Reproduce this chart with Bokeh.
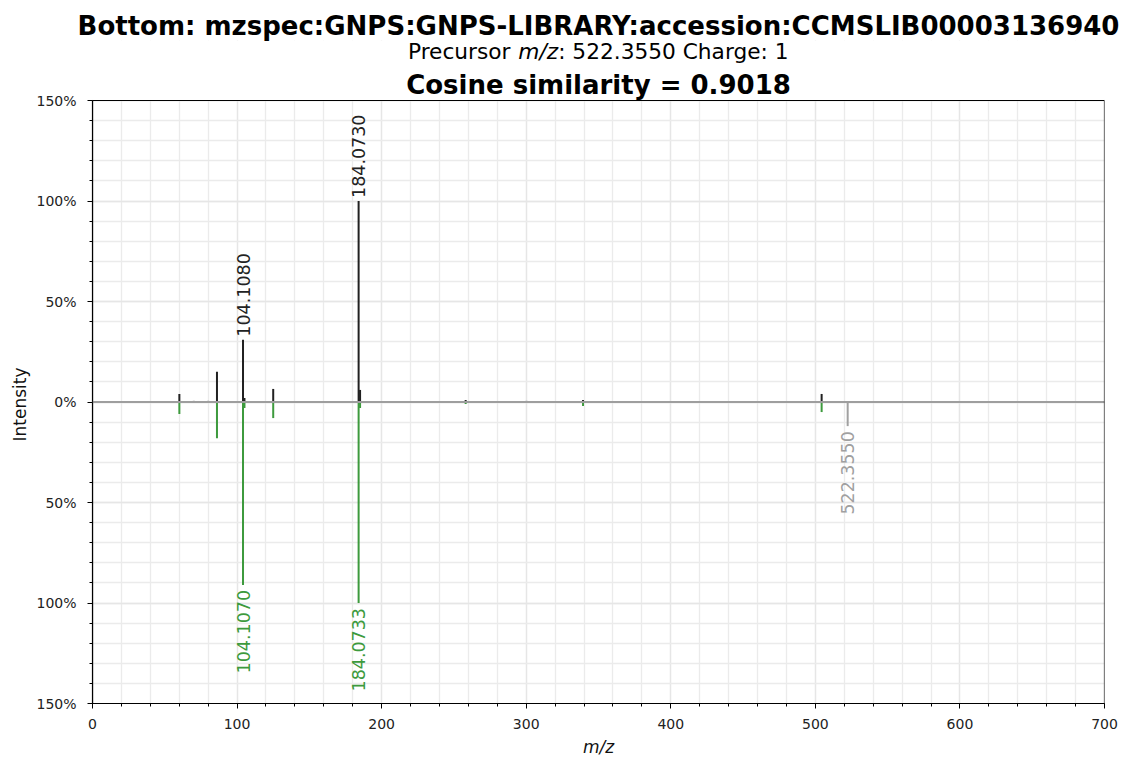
import math
from bokeh.plotting import figure
from bokeh.models import ColumnDataSource, FixedTicker, Span, Label, BoxAnnotation
from bokeh.core.properties import value
from bokeh.embed import file_html
from bokeh.resources import INLINE

# ---------------- data ----------------
top_mz = [60.08, 70.07, 80.05, 86.10, 104.108, 105.11, 125.00, 184.073, 185.08, 258.11, 300.2, 339.3, 504.34]
top_int = [4.0, 0.6, 0.6, 15.0, 31.0, 2.0, 6.5, 100.0, 6.0, 1.0, 0.6, 1.0, 4.0]
top_col = ["#212121", "#a0a0a0", "#a0a0a0", "#212121", "#212121", "#212121", "#212121",
           "#212121", "#212121", "#212121", "#a0a0a0", "#212121", "#212121"]

bot_mz = [60.08, 86.10, 104.107, 105.11, 125.00, 184.0733, 185.08, 258.11, 339.3, 504.34, 522.355]
bot_int = [6.0, 18.0, 91.0, 3.0, 8.0, 100.0, 3.0, 1.0, 2.0, 5.0, 12.0]
bot_col = ["#3d9a3d"] * 10 + ["#a0a0a0"]

top_lab_mz = [104.108, 184.073]
top_lab_int = [31.0, 100.0]
top_lab_txt = ["104.1080", "184.0730"]

bot_lab_mz = [104.107, 184.0733, 522.355]
bot_lab_int = [91.0, 100.0, 12.0]
bot_lab_txt = ["104.1070", "184.0733", "522.3550"]
bot_lab_col = ["#3d9a3d", "#3d9a3d", "#a0a0a0"]

y_ticks = [-150, -100, -50, 0, 50, 100, 150]
y_tick_labels = ["150%", "100%", "50%", "0%", "50%", "100%", "150%"]
x_ticks = [0, 100, 200, 300, 400, 500, 600, 700]

title1 = "Bottom: mzspec:GNPS:GNPS-LIBRARY:accession:CCMSLIB00003136940"
sub_parts = ["Precursor", "m/z", ": 522.3550 Charge: 1"]
sub_styles = ["normal", "italic", "normal"]
title3 = "Cosine similarity = 0.9018"
y_label = "Intensity"
x_label = "m/z"

FONT = "DejaVu Sans"

# ---------------- geometry ----------------
X0, X1, Y0, Y1 = 0, 700, -150, 150
FW = 1012
PLOT_H = 603           # pixel height of the -150..150 box
TOP = 100              # canvas y of the 150% line
FRAME_TOP = 40         # canvas y of the (extended) frame top
px_x = FW / (X1 - X0)
px_y = PLOT_H / (Y1 - Y0)
Y_TOP = Y1 + (TOP - FRAME_TOP) / px_y
FH = PLOT_H + (TOP - FRAME_TOP)
LEFT = 92


def dx(canvas_x):
    return X0 + (canvas_x - LEFT) / px_x


def dy(canvas_y):
    return Y1 + (TOP - canvas_y) / px_y


p = figure(frame_width=FW, frame_height=FH, x_range=(X0, X1), y_range=(Y0, Y_TOP),
           output_backend="svg", toolbar_location=None,
           min_border_left=92, min_border_right=22, min_border_top=FRAME_TOP, min_border_bottom=55)
p.background_fill_color = "white"
p.border_fill_color = "white"
p.outline_line_color = None

for g in (p.xgrid, p.ygrid):
    g.grid_line_color = "#e6e6e6"
    g.grid_line_width = 1.3
    g.minor_grid_line_color = "#ebebeb"
    g.minor_grid_line_width = 1.3

p.xaxis.ticker = FixedTicker(ticks=x_ticks, minor_ticks=list(range(0, 701, 20)))
p.yaxis.ticker = FixedTicker(ticks=y_ticks, minor_ticks=list(range(-150, 151, 10)))
p.yaxis.bounds = (Y0, Y1)
p.yaxis.major_label_overrides = {t: l for t, l in zip(y_ticks, y_tick_labels)}
for ax in (p.xaxis[0], p.yaxis[0]):
    ax.axis_line_color = "black"
    ax.axis_line_width = 1.2
    ax.major_tick_line_color = "black"
    ax.minor_tick_line_color = "black"
    ax.major_tick_out = 5
    ax.major_tick_in = 0
    ax.minor_tick_out = 3
    ax.minor_tick_in = 0
    ax.major_label_text_font = FONT
    ax.major_label_text_font_size = "14px"
    ax.major_label_text_color = "#222222"
    ax.axis_label_text_font = FONT
    ax.axis_label_text_font_size = "17px"
    ax.axis_label_text_color = "#111111"
p.xaxis.axis_label = x_label
p.xaxis.axis_label_text_font_style = "italic"
p.yaxis.major_label_standoff = 11
p.xaxis.major_label_standoff = 10
p.xaxis.axis_label_standoff = 5

# y-axis title centred on the -150..150 box (placed in the left panel)
p.add_layout(Label(x=dx(19), y=dy(404), text=y_label, angle=math.pi / 2, text_align="center",
                   text_baseline="middle", text_font=FONT, text_font_size="17px",
                   text_color="#111111"), "left")

# white cover over the title band of the extended frame
p.quad(left=[X0], right=[X1], bottom=[Y1], top=[Y_TOP], fill_color="white", line_color=None)

p.add_layout(Span(location=0, dimension="width", line_color="#9e9e9e", line_width=2))

top_src = ColumnDataSource(dict(x=top_mz, y=top_int, c=top_col))
p.segment(x0="x", y0=0, x1="x", y1="y", source=top_src, line_color="c", line_width=2)

bot_src = ColumnDataSource(dict(x=bot_mz, y=[-v for v in bot_int], c=bot_col))
p.segment(x0="x", y0=0, x1="x", y1="y", source=bot_src, line_color="c", line_width=2)

tl = ColumnDataSource(dict(x=top_lab_mz, y=top_lab_int, t=top_lab_txt))
p.text(x="x", y="y", text="t", source=tl, angle=math.pi / 2, text_align="left",
       text_baseline="middle", y_offset=-3, text_font=value(FONT),
       text_font_size="17.5px", text_color="#222222")

bl = ColumnDataSource(dict(x=bot_lab_mz, y=[-v for v in bot_lab_int], t=bot_lab_txt, c=bot_lab_col))
p.text(x="x", y="y", text="t", source=bl, angle=math.pi / 2, text_align="right",
       text_baseline="middle", y_offset=5, text_font=value(FONT),
       text_font_size="17.5px", text_color="c")

# plot box outline (matplotlib spines)
p.add_layout(BoxAnnotation(left=X0, right=X1, bottom=Y0, top=Y1, fill_alpha=0,
                           line_color="black", line_width=1.2, line_alpha=1))

# ---------------- titles ----------------
cx = 598
p.add_layout(Label(x=dx(cx), y=dy(25), text=title1, text_align="center",
                   text_baseline="alphabetic", text_font=FONT, text_font_size="26px",
                   text_font_style="bold", text_color="black"), "above")

p.text(x=[dx(cx)], y=[dy(84)], text=[title3], text_align="center", text_baseline="alphabetic",
       text_font=value(FONT), text_font_size="26px", text_font_style="bold", text_color="black")

sub_size = 21.7
sub_units = [9765, 3760, 21793]   # advance widths (DejaVu units / 2048)
gap_w = 651 / 2048 * sub_size
widths = [u / 2048 * sub_size for u in sub_units]
total = sum(widths) + gap_w
xs = [cx - total / 2, cx - total / 2 + widths[0] + gap_w, cx - total / 2 + widths[0] + gap_w + widths[1]]
for txt, xx, st in zip(sub_parts, xs, sub_styles):
    p.text(x=[dx(xx)], y=[dy(51)], text=[txt], text_align="left", text_baseline="alphabetic",
           text_font=value(FONT), text_font_size=f"{sub_size}px", text_font_style=st,
           text_color="black")

open("out.html", "w").write(file_html(p, INLINE))
